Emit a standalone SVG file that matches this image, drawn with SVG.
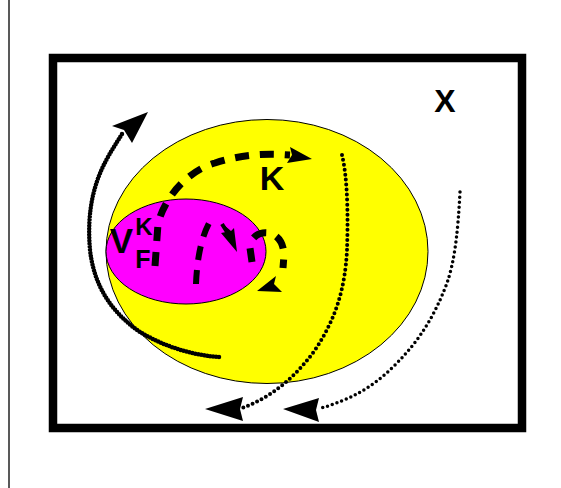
<svg xmlns="http://www.w3.org/2000/svg" width="561" height="488" viewBox="0 0 561 488">
<style>
.lbl{font-family:"Liberation Sans",Arial,sans-serif;font-weight:bold;fill:#000}
.dash{fill:none;stroke:#000;stroke-width:7;stroke-dasharray:14 11}
.dot{fill:none;stroke:#000;stroke-linecap:round}
.head{fill:#000;stroke:none}
</style>
<rect width="561" height="488" fill="#fff"/>
<line x1="9" y1="0" x2="9" y2="488" stroke="#222" stroke-width="1.5"/>
<g id="frame"><rect x="53" y="58" width="469" height="370" fill="none" stroke="#000" stroke-width="8.5"/></g>
<g id="X"><text class="lbl" x="445" y="112" font-size="32" text-anchor="middle">X</text></g>
<g id="K-region"><ellipse cx="267" cy="251.5" rx="161" ry="132" fill="#ffff00" stroke="#000" stroke-width="1"/></g>
<g id="VF"><ellipse cx="186" cy="251.5" rx="80" ry="52.5" fill="#ff00ff" stroke="#000" stroke-width="1"/></g>
<g id="labels">
<text class="lbl" x="121.5" y="253" font-size="35" text-anchor="middle">V</text>
<text class="lbl" x="144" y="235" font-size="24" text-anchor="middle">K</text>
<text class="lbl" x="143" y="268" font-size="25" text-anchor="middle">F</text>
<text class="lbl" x="272" y="190" font-size="34" text-anchor="middle">K</text>
</g>
<g id="connectors">
<path class="dot" d="M219 357 C190 355 160 345 137 330 C110 310 94 285 90 250 C87 215 92 185 108 157 C113 148 117 142 122 134" stroke-width="4.5" stroke-dasharray="0 3"/>
<polygon class="head" points="148,112 112,126 124,130 132,143"/>
<path class="dash" d="M155 266 L158 224 C165 195 190 170 215 163 C240 155 262 153 290 155"/>
<polygon class="head" points="312,159 290,147 292,155 287,163"/>
<path fill="none" stroke="#000" stroke-width="6" stroke-dasharray="14 10" d="M196 284 C197 260 201 235 212 218"/>
<path fill="none" stroke="#000" stroke-width="4" d="M222 224 L232 240"/>
<polygon class="head" points="237,252 221,233 226,232 224,225 231,231 234,228"/>
<path class="dash" stroke-width="6" d="M252 262 L250 248 C250 228 283 225 284 255 L283 268" stroke-dasharray="14 10"/>
<polygon class="head" points="257,291 276,276 274,284 282,292"/>
<path class="dot" d="M342 155 C348 180 348 220 347 250 C345 290 335 320 315 350 C295 378 270 398 242 408" stroke-width="4" stroke-dasharray="0 5"/>
<polygon class="head" points="205,409 243,397 240,409 243,421"/>
<path class="dot" d="M460 192 C458 230 455 260 447 283 C435 315 420 340 395 365 C372 388 350 400 318 409" stroke-width="3.5" stroke-dasharray="0 5"/>
<polygon class="head" points="283,409 319,398 316,410 319,422"/>
</g>
</svg>
